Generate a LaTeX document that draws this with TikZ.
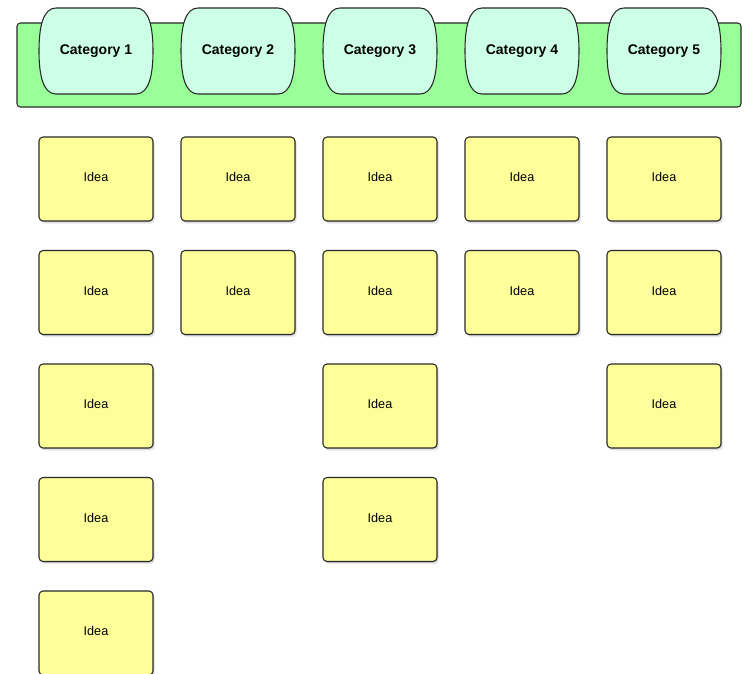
\documentclass[tikz,border=0pt]{standalone}
\usepackage{fontspec}
\setmainfont{Liberation Sans}
\usepackage{tikz}
\usetikzlibrary{calc,shadows,backgrounds}

\definecolor{boardgreen}{RGB}{153,255,153}
\definecolor{catmint}{RGB}{204,255,230}
\definecolor{notey}{RGB}{255,255,153}
\definecolor{edgegray}{RGB}{40,40,40}

\tikzset{
    cat/.style={inner sep=0pt, font=\fontsize{10.5}{12}\selectfont\bfseries},
    catline/.style={draw=edgegray, line width=0.8pt, fill=catmint},
    idea/.style={rectangle, rounded corners=3pt, draw=edgegray, line width=0.8pt, fill=notey,
        minimum width=85.5pt, minimum height=63pt, inner sep=0pt, text depth=2.5pt,
        font=\fontsize{9.5}{11}\selectfont,
        drop shadow={opacity=0.18, shadow xshift=1.4pt, shadow yshift=-2pt},
        drop shadow={opacity=0.22, shadow xshift=0.7pt, shadow yshift=-1pt}}
}

\begin{document}
\begin{tikzpicture}[x=0.75pt, y=-0.75pt]
    \useasboundingbox (0,0) rectangle (744,674);

    \node[cat] (c1) at (96,51) {Category 1};
    \node[cat] (c2) at ($(c1) + (142, 0)$) {Category 2};
    \node[cat] (c3) at ($(c2) + (142, 0)$) {Category 3};
    \node[cat] (c4) at ($(c3) + (142, 0)$) {Category 4};
    \node[cat] (c5) at ($(c4) + (142, 0)$) {Category 5};

    % board and category tabs behind the labels
    \begin{pgfonlayer}{background}
    \draw[draw=edgegray, line width=0.8pt, fill=boardgreen, rounded corners=2.5pt] (17,23) rectangle (741,107);
    \foreach \c in {c1,c2,c3,c4,c5}
        \draw[catline] ($(\c) + (-40,-43)$) -- ($(\c) + (40,-43)$)
            .. controls ($(\c) + (53,-43)$) and ($(\c) + (57,-24)$) .. ($(\c) + (57,0)$)
            .. controls ($(\c) + (57,24)$) and ($(\c) + (53,43)$) .. ($(\c) + (40,43)$)
            -- ($(\c) + (-40,43)$)
            .. controls ($(\c) + (-53,43)$) and ($(\c) + (-57,24)$) .. ($(\c) + (-57,0)$)
            .. controls ($(\c) + (-57,-24)$) and ($(\c) + (-53,-43)$) .. ($(\c) + (-40,-43)$) -- cycle;
    \end{pgfonlayer}

    \node[idea] (i11) at ($(c1) + (0, 128)$) {Idea};
    \node[idea] (i12) at ($(i11) + (0, 113.5)$) {Idea};
    \node[idea] (i13) at ($(i12) + (0, 113.5)$) {Idea};
    \node[idea] (i14) at ($(i13) + (0, 113.5)$) {Idea};
    \node[idea] (i15) at ($(i14) + (0, 113.5)$) {Idea};

    \node[idea] (i21) at ($(c2) + (0, 128)$) {Idea};
    \node[idea] (i22) at ($(i21) + (0, 113.5)$) {Idea};

    \node[idea] (i31) at ($(c3) + (0, 128)$) {Idea};
    \node[idea] (i32) at ($(i31) + (0, 113.5)$) {Idea};
    \node[idea] (i33) at ($(i32) + (0, 113.5)$) {Idea};
    \node[idea] (i34) at ($(i33) + (0, 113.5)$) {Idea};

    \node[idea] (i41) at ($(c4) + (0, 128)$) {Idea};
    \node[idea] (i42) at ($(i41) + (0, 113.5)$) {Idea};

    \node[idea] (i51) at ($(c5) + (0, 128)$) {Idea};
    \node[idea] (i52) at ($(i51) + (0, 113.5)$) {Idea};
    \node[idea] (i53) at ($(i52) + (0, 113.5)$) {Idea};

\end{tikzpicture}
\end{document}
